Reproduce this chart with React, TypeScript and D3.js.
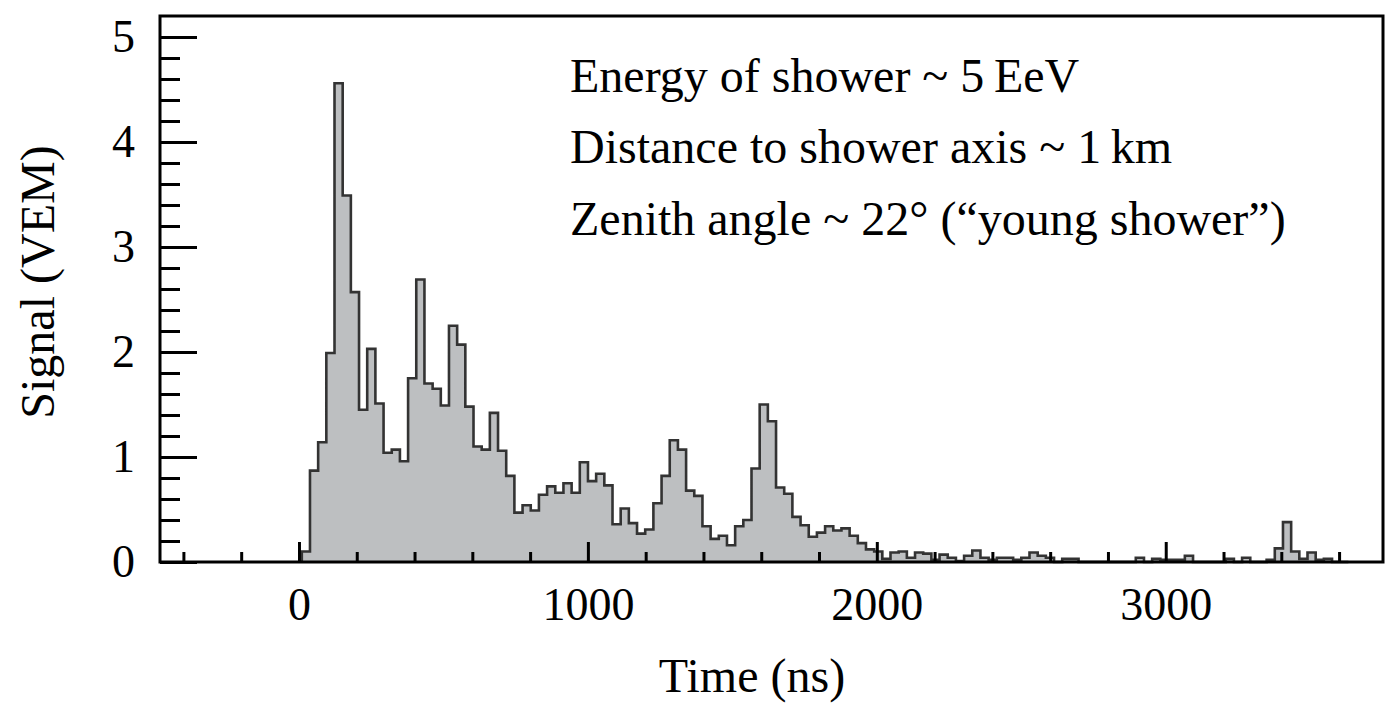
import React, { useEffect, useRef } from "react";
import * as d3 from "d3";

// FADC trace, one value per time bin (VEM)
const signal: number[] = [
  0.1, 0.87, 1.14, 1.99, 4.56, 3.49, 2.57, 1.45, 2.03, 1.51,
  1.04, 1.07, 0.96, 1.75, 2.69, 1.7, 1.65, 1.49, 2.25, 2.07,
  1.48, 1.1, 1.07, 1.42, 1.06, 0.82, 0.47, 0.54, 0.49, 0.64,
  0.72, 0.66, 0.75, 0.66, 0.95, 0.77, 0.84, 0.73, 0.36, 0.51,
  0.37, 0.27, 0.31, 0.56, 0.82, 1.16, 1.07, 0.68, 0.63, 0.34,
  0.22, 0.25, 0.16, 0.34, 0.4, 0.89, 1.5, 1.34, 0.71, 0.65,
  0.43, 0.35, 0.24, 0.28, 0.34, 0.3, 0.32, 0.25, 0.18, 0.12,
  0.1, 0.03, 0.09, 0.1, 0.04, 0.09, 0.08, 0.02, 0.07, 0.04,
  0.01, 0.06, 0.11, 0.04, 0.02, 0.04, 0.04, 0.02, 0.04, 0.09,
  0.06, 0.04, 0, 0.03, 0.03, 0, 0, 0, 0, 0,
  0, 0, 0.04, 0, 0.03, 0.02, 0.02, 0.02, 0.06, 0,
  0, 0, 0, 0.03, 0, 0.04, 0, 0, 0.02, 0.13,
  0.38, 0.1, 0.03, 0.09, 0.02, 0.03, 0, 0,
];
const binStart = 9.8; // ns
const binWidth = 28.3; // ns

const xDomain: [number, number] = [-481, 3752];
const yDomain: [number, number] = [0, 5.2];
const xMajorTicks = [0, 1000, 2000, 3000];
const xMinorTicks = d3.range(-400, 3601, 200).filter((t) => t % 1000 !== 0);
const yMajorTicks = [0, 1, 2, 3, 4, 5];
const yMinorTicks = d3.range(1, 26).map((i) => +(i * 0.2).toFixed(1)).filter((t) => t % 1 !== 0);

const infoLines = [
  "Energy of shower ~ 5\u2009EeV",
  "Distance to shower axis ~ 1\u2009km",
  "Zenith angle ~ 22\u00b0 (\u201cyoung shower\u201d)",
];

const FONT = "'Liberation Serif', 'DejaVu Serif', serif";

export default function App() {
  const ref = useRef<SVGSVGElement>(null);

  useEffect(() => {
    document.body.style.margin = "0";
    if (!ref.current) return;
    const svg = d3.select(ref.current);
    svg.selectAll("*").remove();

    const left = 160, right = 1383, top = 16, bottom = 562;
    const x = d3.scaleLinear().domain(xDomain).range([left, right]);
    const y = d3.scaleLinear().domain(yDomain).range([bottom, top]);

    // histogram as step curve
    const pts: [number, number][] = signal.map((v, i) => [binStart + i * binWidth, v]);
    pts.unshift([binStart, 0]);
    pts.push([binStart + signal.length * binWidth, 0]);

    const area = d3
      .area<[number, number]>()
      .x((d) => x(d[0]))
      .y0(y(0))
      .y1((d) => y(d[1]))
      .curve(d3.curveStepAfter);
    const line = d3
      .line<[number, number]>()
      .x((d) => x(d[0]))
      .y((d) => y(d[1]))
      .curve(d3.curveStepAfter);

    svg.append("path").attr("d", area(pts)).attr("fill", "#bdbfc1");
    svg
      .append("path")
      .attr("d", line(pts))
      .attr("fill", "none")
      .attr("stroke", "#333")
      .attr("stroke-width", 2.6);

    // ticks pointing inward
    const styleAxis = (g: d3.Selection<SVGGElement, unknown, null, undefined>) => {
      g.select(".domain").remove();
      g.selectAll("line").attr("stroke", "#000").attr("stroke-width", 3);
      g.selectAll("text")
        .attr("font-family", FONT)
        .attr("font-size", 46)
        .attr("fill", "#000");
    };

    svg
      .append("g")
      .attr("transform", `translate(0,${bottom})`)
      .call(d3.axisBottom(x).tickValues(xMinorTicks).tickSize(-10).tickFormat(() => ""))
      .call(styleAxis);
    svg
      .append("g")
      .attr("transform", `translate(0,${bottom})`)
      .call(
        d3
          .axisBottom(x)
          .tickValues(xMajorTicks)
          .tickSize(-20)
          .tickPadding(25)
          .tickFormat(d3.format("d"))
      )
      .call(styleAxis);

    svg
      .append("g")
      .attr("transform", `translate(${left},0)`)
      .call(d3.axisLeft(y).tickValues(yMinorTicks).tickSize(-20).tickFormat(() => ""))
      .call(styleAxis);
    svg
      .append("g")
      .attr("transform", `translate(${left},0)`)
      .call(
        d3
          .axisLeft(y)
          .tickValues(yMajorTicks)
          .tickSize(-37)
          .tickPadding(25)
          .tickFormat(d3.format("d"))
      )
      .call(styleAxis);

    // frame
    svg
      .append("rect")
      .attr("x", left)
      .attr("y", top)
      .attr("width", right - left)
      .attr("height", bottom - top)
      .attr("fill", "none")
      .attr("stroke", "#000")
      .attr("stroke-width", 3);

    // axis titles
    svg
      .append("text")
      .attr("x", 752)
      .attr("y", 692)
      .attr("text-anchor", "middle")
      .attr("font-family", FONT)
      .attr("font-size", 48)
      .text("Time (ns)");
    svg
      .append("text")
      .attr("transform", "translate(54,282) rotate(-90)")
      .attr("text-anchor", "middle")
      .attr("font-family", FONT)
      .attr("font-size", 48)
      .text("Signal (VEM)");

    // info text
    const baselines = [92, 163, 235];
    svg
      .selectAll(".info")
      .data(infoLines)
      .enter()
      .append("text")
      .attr("class", "info")
      .attr("x", 570)
      .attr("y", (_, i) => baselines[i])
      .attr("font-family", FONT)
      .attr("font-size", 48)
      .text((d) => d);
  }, []);

  return <svg ref={ref} width={1392} height={709} style={{ display: "block", background: "#fff" }} />;
}
